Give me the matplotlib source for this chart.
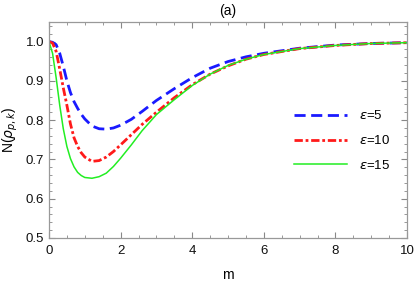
import numpy as np
import matplotlib
matplotlib.use("Agg")
import matplotlib.pyplot as plt
from matplotlib.ticker import MultipleLocator

plt.rcParams['font.family'] = ['Liberation Sans', 'DejaVu Sans']
plt.rcParams['mathtext.fontset'] = 'dejavusans'

# values
m = [0, 0.1, 0.2, 0.3, 0.4, 0.5, 0.6, 0.7, 0.8, 0.9, 1.0, 1.2, 1.4, 1.6, 1.8,
     2.0, 2.3, 2.6, 3.0, 3.5, 4.0, 4.5, 5.0, 5.5, 6.0, 7.0, 8.0, 9.0, 10.0]
n_eps5 = [1.0, 0.998, 0.992, 0.970, 0.937, 0.900, 0.870, 0.847, 0.830, 0.815,
          0.803, 0.785, 0.778, 0.777, 0.780, 0.787, 0.802, 0.822, 0.850, 0.880,
          0.908, 0.932, 0.949, 0.961, 0.970, 0.983, 0.991, 0.995, 0.997]
n_eps10 = [1.0, 0.996, 0.975, 0.930, 0.882, 0.838, 0.790, 0.755, 0.733, 0.717,
           0.706, 0.695, 0.697, 0.706, 0.720, 0.737, 0.763, 0.789, 0.820, 0.857,
           0.890, 0.917, 0.938, 0.955, 0.967, 0.982, 0.990, 0.995, 0.997]
n_eps15 = [1.0, 0.970, 0.908, 0.838, 0.778, 0.733, 0.702, 0.681, 0.667, 0.659,
           0.654, 0.652, 0.656, 0.665, 0.682, 0.703, 0.737, 0.773, 0.814, 0.852,
           0.888, 0.917, 0.939, 0.955, 0.967, 0.982, 0.990, 0.995, 0.997]
labels = [r'$\epsilon$=5', r'$\epsilon$=10', r'$\epsilon$=15']

fig = plt.figure(figsize=(4.15, 2.84), dpi=100)
ax = fig.add_axes([0.118, 0.162, 0.863, 0.761])

ax.plot(m, n_eps5, color='#1a1aff', lw=2.0, dashes=(4, 2), label=labels[0])
ax.plot(m, n_eps10, color='#ff1a1a', lw=2.0, dashes=(3, 1, 1, 1), label=labels[1])
ax.plot(m, n_eps15, color='#22ee22', lw=1.1, label=labels[2])

ax.set_xlim(0, 10)
ax.set_ylim(0.5, 1.05)
ax.xaxis.set_major_locator(MultipleLocator(2))
ax.xaxis.set_minor_locator(MultipleLocator(0.5))
ax.yaxis.set_major_locator(MultipleLocator(0.1))
ax.yaxis.set_minor_locator(MultipleLocator(0.02))
ax.tick_params(which='both', direction='in', top=True, right=True,
               color='#888888', labelsize=9.5, labelcolor='#111111')
ax.tick_params(which='major', length=4, width=0.8)
ax.tick_params(axis='x', which='major', pad=5)
ax.tick_params(axis='y', which='major', pad=3.5)
ax.tick_params(which='minor', length=2, width=0.6)
for s in ax.spines.values():
    s.set_color('#999999')
    s.set_linewidth(0.9)

ax.set_xlabel('m', fontsize=10, labelpad=8)
ax.set_ylabel(r'N($\rho_{p,k}$)', fontsize=10, labelpad=4)
ax.set_title('(a)', fontsize=10, pad=5)

ax.legend(loc='center right', bbox_to_anchor=(0.985, 0.45), frameon=False,
          fontsize=9.5, handlelength=4.0, labelspacing=0.9, handletextpad=0.9)

fig.savefig('out.png', dpi=100)
